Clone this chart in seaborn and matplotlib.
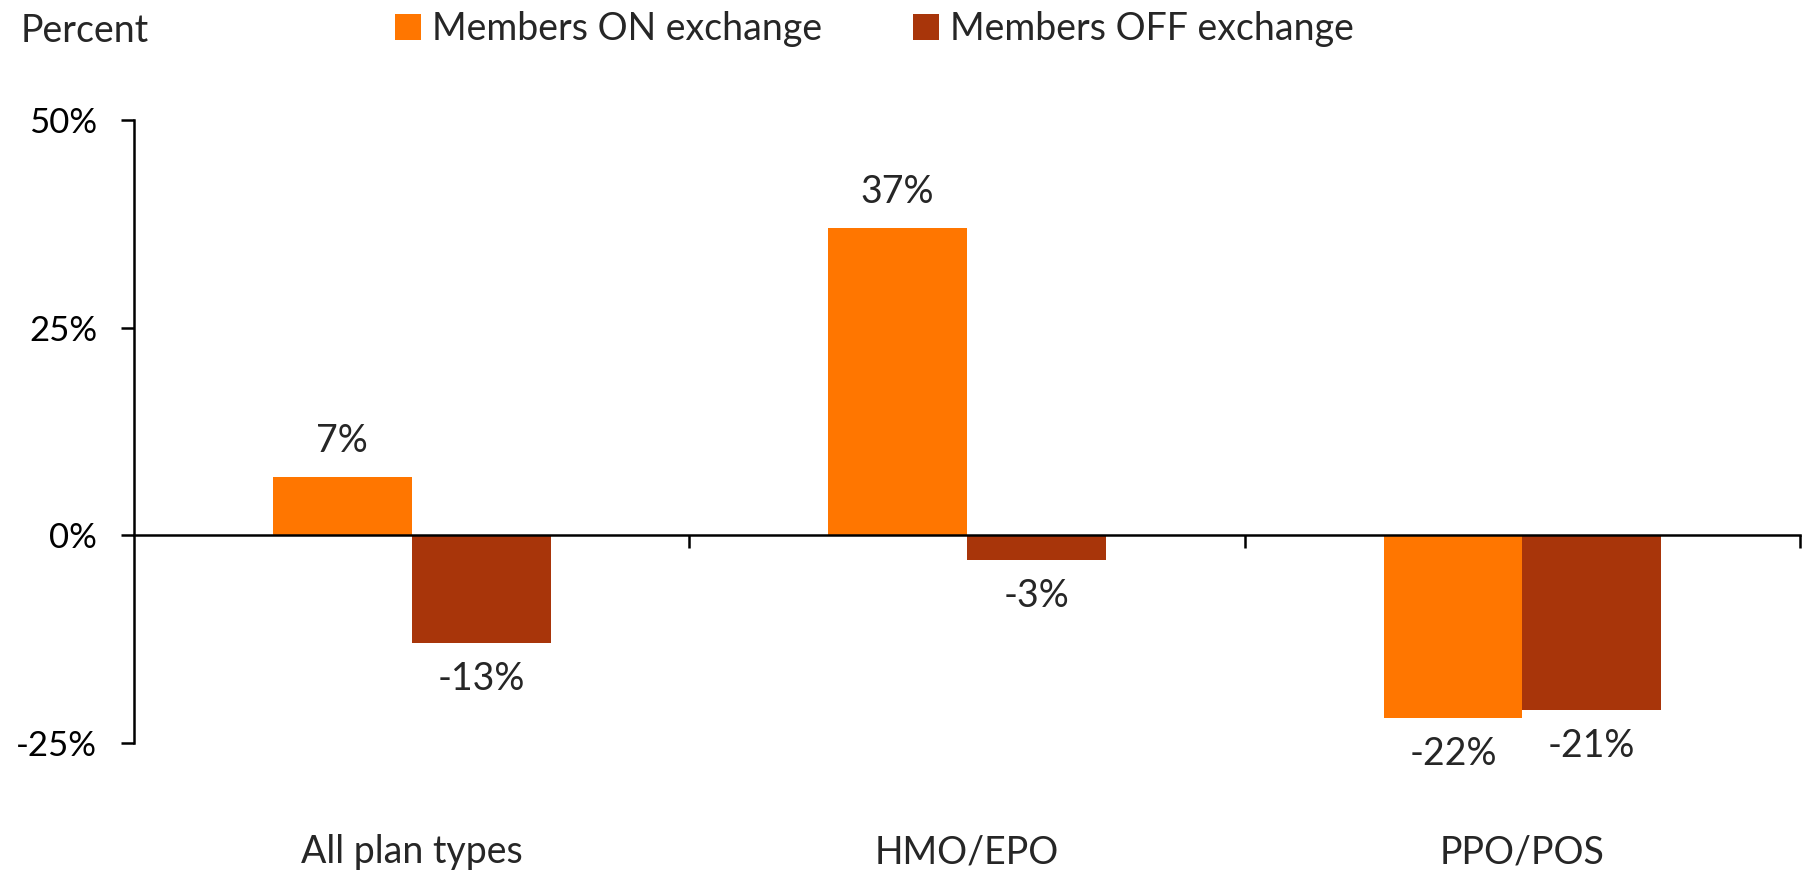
import matplotlib
matplotlib.use("Agg")
import matplotlib.pyplot as plt
import matplotlib.transforms as mtransforms
import seaborn as sns
import pandas as pd

# data
plan_types = ["All plan types", "HMO/EPO", "PPO/POS"]
members_on = [7, 37, -22]
members_off = [-13, -3, -21]
series_names = ["Members ON exchange", "Members OFF exchange"]
y_ticks = [-25, 0, 25, 50]

colors = ["#FF7600", "#A8350A"]

df = pd.DataFrame({
    "plan": plan_types * 2,
    "pct": members_on + members_off,
    "series": [series_names[0]] * 3 + [series_names[1]] * 3,
})

sns.set_theme(style="white")
plt.rcParams["font.family"] = ["Lato", "DejaVu Sans"]
FS = 27
TFS = 25

fig = plt.figure(figsize=(18.06, 8.72), dpi=100)
ax = fig.add_axes([134 / 1806, 1 - 743 / 872, (1800 - 134) / 1806, 623 / 872])

sns.barplot(data=df, x="plan", y="pct", hue="series", palette=colors,
            width=0.5, linewidth=0, saturation=1, ax=ax, errorbar=None)

handles, labels = ax.get_legend_handles_labels()
ax.get_legend().remove()

for cont in ax.containers:
    ax.bar_label(cont, fmt="{:.0f}%", padding=13, fontsize=FS)

ax.set_xlim(-0.5, 2.5)
ax.set_ylim(-25, 50)
ax.set_yticks(y_ticks)
ax.set_yticklabels([f"{t}%" for t in y_ticks], fontsize=TFS)
ax.set_xticks([0.5, 1.5, 2.5])
ax.set_xticklabels([])
ax.set_xlabel("")
ax.set_ylabel("")

for s in ["top", "right"]:
    ax.spines[s].set_visible(False)
ax.spines["bottom"].set_position(("data", 0))
for s in ["left", "bottom"]:
    ax.spines[s].set_color("black")
    ax.spines[s].set_linewidth(1.8)
ax.tick_params(axis="both", direction="out", length=9.5, width=1.8, color="black",
               bottom=True, left=True)
ax.tick_params(axis="y", pad=17, labelcolor="black")

trans = mtransforms.blended_transform_factory(ax.transData, ax.transAxes)
for i, name in enumerate(plan_types):
    ax.text(i, -0.175, name, transform=trans, ha="center", va="center", fontsize=FS)

fig.text(21 / 1806, 1 - 31 / 872, "Percent", ha="left", va="center", fontsize=FS)
fig.legend(handles, labels, loc="center left", bbox_to_anchor=(395 / 1806, 1 - 29 / 872),
           ncol=2, frameon=False, fontsize=FS, borderpad=0, borderaxespad=0,
           handlelength=0.7, handleheight=0.7, handletextpad=0.3, columnspacing=2.4)

fig.savefig("out.png", dpi=100)
